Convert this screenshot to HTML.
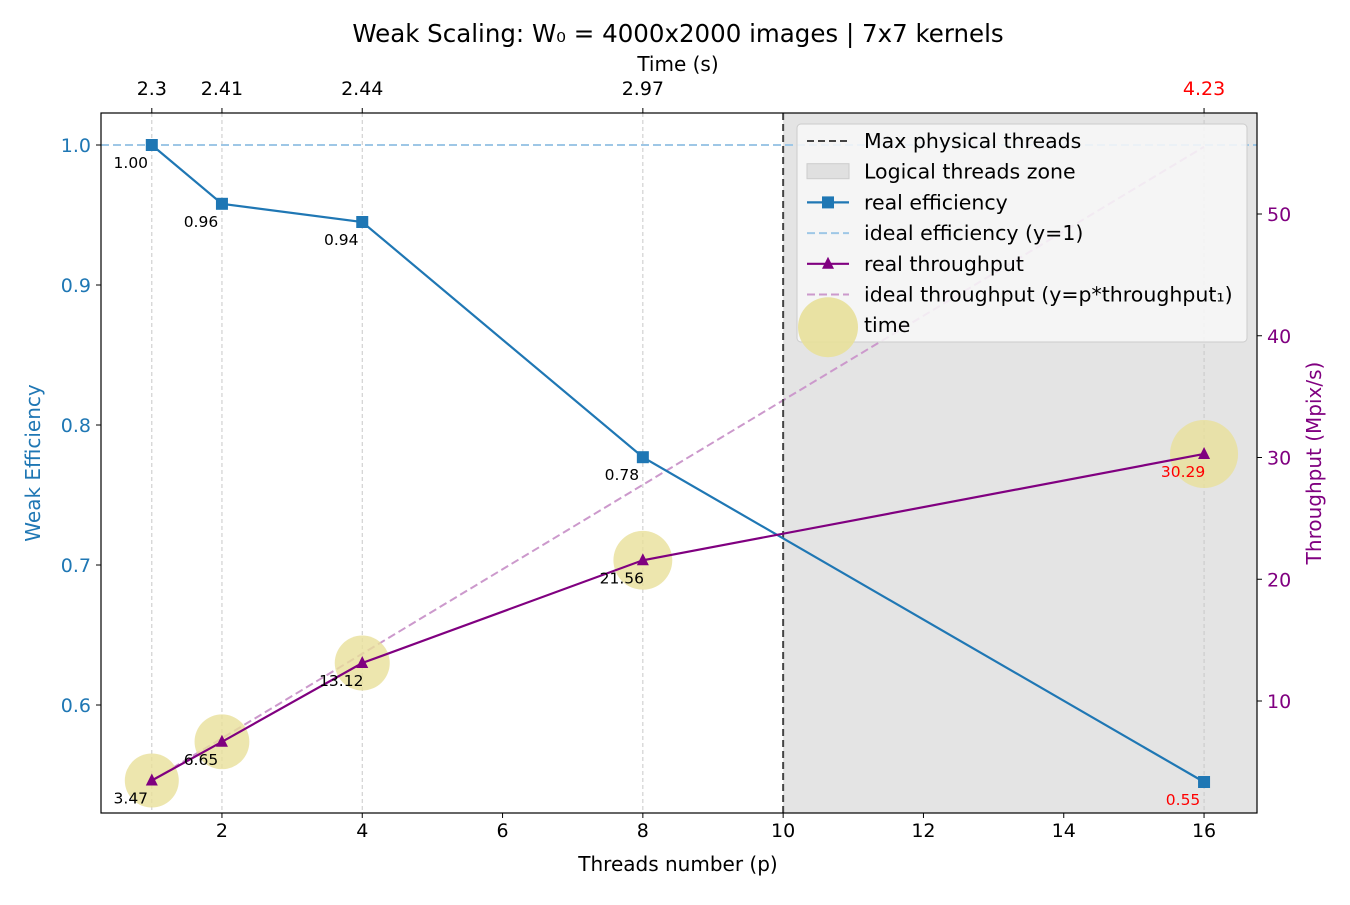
<!DOCTYPE html>
<html><head><meta charset="utf-8"><style>
body{margin:0;background:#fff;font-family:"Liberation Sans","DejaVu Sans",sans-serif}
</style></head><body>
<svg id="c" width="1350" height="900" xmlns="http://www.w3.org/2000/svg" font-family="DejaVu Sans, Liberation Sans, sans-serif"></svg>
<script>
const threads=[1,2,4,8,16];
const efficiency=[1.0,0.958,0.945,0.777,0.545];
const effLabels=["1.00","0.96","0.94","0.78","0.55"];
const throughput=[3.47,6.65,13.12,21.56,30.29];
const thrLabels=["3.47","6.65","13.12","21.56","30.29"];
const times=[2.3,2.41,2.44,2.97,4.23];
const timeLabels=["2.3","2.41","2.44","2.97","4.23"];
const xTicks=[2,4,6,8,10,12,14,16];
const yLeftTicks=[0.6,0.7,0.8,0.9,1.0];
const yRightTicks=[10,20,30,40,50];
const maxPhys=10;

const L=101,R=1257,T=113,B=813;
const X=v=>151.8+(v-1)*70.15;
const YL=v=>145+(1.0-v)*1400;
const YR=v=>701-(v-10)*12.175;
const svg=document.getElementById('c');
const NS='http://www.w3.org/2000/svg';
function el(tag,attrs,parent,text){const e=document.createElementNS(NS,tag);for(const k in attrs)e.setAttribute(k,attrs[k]);if(text!==undefined)e.textContent=text;(parent||svg).appendChild(e);return e;}

let z=el('rect',{x:X(maxPhys),y:T,width:R-X(maxPhys),height:B-T,fill:'#e4e4e4'});


threads.forEach(p=>{let g=el('line',{x1:X(p),x2:X(p),y1:T,y2:B,stroke:'#c8c8c8','stroke-dasharray':'4,3','stroke-width':1});

});
let ie=el('line',{x1:L,x2:R,y1:YL(1),y2:YL(1),stroke:'#9ec7e6','stroke-width':2,'stroke-dasharray':'8,4'});


let ip=el('polyline',{points:threads.map(p=>X(p)+','+YR(p*throughput[0])).join(' '),fill:'none',stroke:'#cc99cc','stroke-width':2,'stroke-dasharray':'8,4'});


let mp=el('line',{x1:X(maxPhys),x2:X(maxPhys),y1:T,y2:B,stroke:'#444','stroke-width':2,'stroke-dasharray':'7,4'});


threads.forEach((p,i)=>{const r=27+(times[i]-2.3)/(4.23-2.3)*7;
let c=el('circle',{cx:X(p),cy:YR(throughput[i]),r:r,fill:'#e8e09a','fill-opacity':0.8});

});
let ef=el('polyline',{points:threads.map((p,i)=>X(p)+','+YL(efficiency[i])).join(' '),fill:'none',stroke:'#1f77b4','stroke-width':2.2});


threads.forEach((p,i)=>{let m=el('rect',{x:X(p)-6,y:YL(efficiency[i])-6,width:12,height:12,fill:'#1f77b4'});


let t=el('text',{x:X(p)-21,y:YL(efficiency[i])+23,'font-size':15.5,'text-anchor':'middle',fill:i==4?'red':'#000'},svg,effLabels[i]);

});
let th=el('polyline',{points:threads.map((p,i)=>X(p)+','+YR(throughput[i])).join(' '),fill:'none',stroke:'purple','stroke-width':2.2});


threads.forEach((p,i)=>{const x=X(p),y=YR(throughput[i]);
let m=el('polygon',{points:`${x},${y-7} ${x-6},${y+5} ${x+6},${y+5}`,fill:'purple'});


let t=el('text',{x:x-21,y:y+23,'font-size':15.5,'text-anchor':'middle',fill:i==4?'red':'#000'},svg,thrLabels[i]);

});
let f=el('rect',{x:L,y:T,width:R-L,height:B-T,fill:'none',stroke:'#000','stroke-width':1.2});


xTicks.forEach(v=>{el('line',{x1:X(v),x2:X(v),y1:B,y2:B+5,stroke:'#000'});
let t=el('text',{x:X(v),y:B+24,'font-size':19,'text-anchor':'middle'},svg,String(v));

});
threads.forEach((p,i)=>{el('line',{x1:X(p),x2:X(p),y1:T,y2:T-5,stroke:'#000'});
let t=el('text',{x:X(p),y:95,'font-size':19,'text-anchor':'middle',fill:i==4?'red':'#000'},svg,timeLabels[i]);

});
yLeftTicks.forEach(v=>{el('line',{x1:L,x2:L-5,y1:YL(v),y2:YL(v),stroke:'#000'});
let t=el('text',{x:L-10,y:YL(v)+7,'font-size':19,'text-anchor':'end',fill:'#1f77b4'},svg,v.toFixed(1));

});
yRightTicks.forEach(v=>{el('line',{x1:R,x2:R+5,y1:YR(v),y2:YR(v),stroke:'#000'});
let t=el('text',{x:R+10,y:YR(v)+7,'font-size':19,fill:'purple'},svg,String(v));

});
let a=el('text',{x:678,y:42,'font-size':24.5,'text-anchor':'middle'},svg,'Weak Scaling: W₀ = 4000x2000 images | 7x7 kernels');

a=el('text',{x:678,y:71,'font-size':20,'text-anchor':'middle'},svg,'Time (s)');

a=el('text',{x:678,y:871,'font-size':20,'text-anchor':'middle'},svg,'Threads number (p)');

a=el('text',{x:40,y:463,'font-size':20,'text-anchor':'middle',fill:'#1f77b4',transform:'rotate(-90 40 463)'},svg,'Weak Efficiency');

a=el('text',{x:1321,y:463,'font-size':20,'text-anchor':'middle',fill:'purple',transform:'rotate(-90 1321 463)'},svg,'Throughput (Mpix/s)');

const g=el('g',{});


el('rect',{x:797,y:124,width:450,height:218,rx:4,fill:'#f8f8f8','fill-opacity':0.85,stroke:'#ccc'},g);
const items=['Max physical threads','Logical threads zone','real efficiency','ideal efficiency (y=1)','real throughput','ideal throughput (y=p*throughput₁)','time'];
items.forEach((s,i)=>{const y=141+i*30.7;const x0=807,x1=849,xm=828;
if(i==0)el('line',{x1:x0,x2:x1,y1:y,y2:y,stroke:'#444','stroke-width':2,'stroke-dasharray':'7,4'},g);
if(i==1)el('rect',{x:x0,y:y-8,width:42,height:15,fill:'#e0e0e0',stroke:'#ccc'},g);
if(i==2){el('line',{x1:x0,x2:x1,y1:y,y2:y,stroke:'#1f77b4','stroke-width':2.2},g);el('rect',{x:xm-6,y:y-6,width:12,height:12,fill:'#1f77b4'},g);}
if(i==3)el('line',{x1:x0,x2:x1,y1:y,y2:y,stroke:'#9ec7e6','stroke-width':2,'stroke-dasharray':'8,4'},g);
if(i==4){el('line',{x1:x0,x2:x1,y1:y,y2:y,stroke:'purple','stroke-width':2.2},g);el('polygon',{points:`${xm},${y-7} ${xm-6},${y+5} ${xm+6},${y+5}`,fill:'purple'},g);}
if(i==5)el('line',{x1:x0,x2:x1,y1:y,y2:y,stroke:'#cc99cc','stroke-width':2,'stroke-dasharray':'8,4'},g);
if(i==6)el('circle',{cx:xm,cy:y+2,r:30,fill:'#e8e09a','fill-opacity':0.9},g);
const t=el('text',{x:864,y:y+7,'font-size':20.5},g,s);

});
</script>
</body></html>
